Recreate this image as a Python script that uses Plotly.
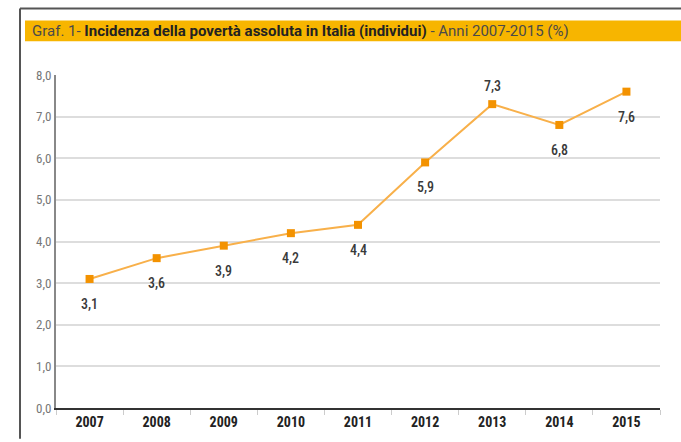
import plotly.graph_objects as go

years = ["2007", "2008", "2009", "2010", "2011", "2012", "2013", "2014", "2015"]
values = [3.1, 3.6, 3.9, 4.2, 4.4, 5.9, 7.3, 6.8, 7.6]
labels = ["3,1", "3,6", "3,9", "4,2", "4,4", "5,9", "7,3", "6,8", "7,6"]
label_above = [False, False, False, False, False, False, True, False, False]
yticks = [0, 1, 2, 3, 4, 5, 6, 7, 8]

W, H = 681, 442
L, R, T, B = 56, 21, 75, 31
pw, ph = W - L - R, H - T - B

def px(x):
    return (x - L) / pw

def py(y):
    return (H - B - y) / ph

FONT = "Roboto Condensed, Liberation Sans Narrow, Roboto, Arial"
TFONT = "Roboto, Arial"

fig = go.Figure()
fig.add_trace(go.Scatter(
    x=years, y=values, mode="lines+markers",
    line=dict(color="#F8B04A", width=2),
    marker=dict(symbol="square", size=8, color="#F39200"),
    cliponaxis=False, showlegend=False, hoverinfo="skip",
))

annotations = [
    dict(x=i, y=v, xref="x", yref="y", text=t, showarrow=False,
         yanchor="middle", xanchor="center", yshift=(18 if up else -25),
         font=dict(family=FONT, size=14, color="#3a3a3a", weight=500))
    for i, (v, t, up) in enumerate(zip(values, labels, label_above))
]
annotations.append(
    dict(xref="paper", yref="paper", x=px(30), y=py(30.5), xanchor="left", yanchor="middle",
         showarrow=False,
         text="<span style='color:#4a4a4a'>Graf. 1- </span><b>Incidenza della povertà assoluta in Italia (individui)</b><span style='color:#4a4a4a'> - Anni 2007-2015 (%)</span>",
         font=dict(family=TFONT, size=15, color="#222222"))
)

fig.update_layout(
    width=W, height=H,
    margin=dict(l=L, r=R, t=T, b=B),
    paper_bgcolor="white", plot_bgcolor="white",
    separators=",.",
    font=dict(family=FONT),
    xaxis=dict(
        type="category", showgrid=False,
        showline=True, linecolor="#333333", linewidth=2,
        ticks="outside", tickson="boundaries", ticklen=5, tickcolor="#cccccc",
        tickfont=dict(family=FONT, size=14, color="#222222", weight="bold"),
        range=[-0.5, 8.5],
    ),
    yaxis=dict(
        range=[0, 8], tickvals=yticks, tickformat=".1f",
        showgrid=True, gridcolor="#dddddd", gridwidth=2,
        showline=True, linecolor="#888888", linewidth=2,
        tickfont=dict(family=FONT, size=13, color="#777777"),
        ticks="", zeroline=False,
    ),
    shapes=[
        dict(type="line", xref="paper", yref="paper", x0=px(20), x1=px(20), y0=py(8), y1=py(442),
             line=dict(color="#555555", width=2)),
        dict(type="line", xref="paper", yref="paper", x0=px(20), x1=px(681), y0=py(8), y1=py(8),
             line=dict(color="#555555", width=2)),
        dict(type="rect", xref="paper", yref="paper", x0=px(25), x1=px(681), y0=py(41), y1=py(20),
             fillcolor="#F7B500", line=dict(width=0), layer="below"),
    ],
    annotations=annotations,
)

fig.write_html("out.html", config={"displayModeBar": False},
               post_script="document.body.style.margin='0';")
